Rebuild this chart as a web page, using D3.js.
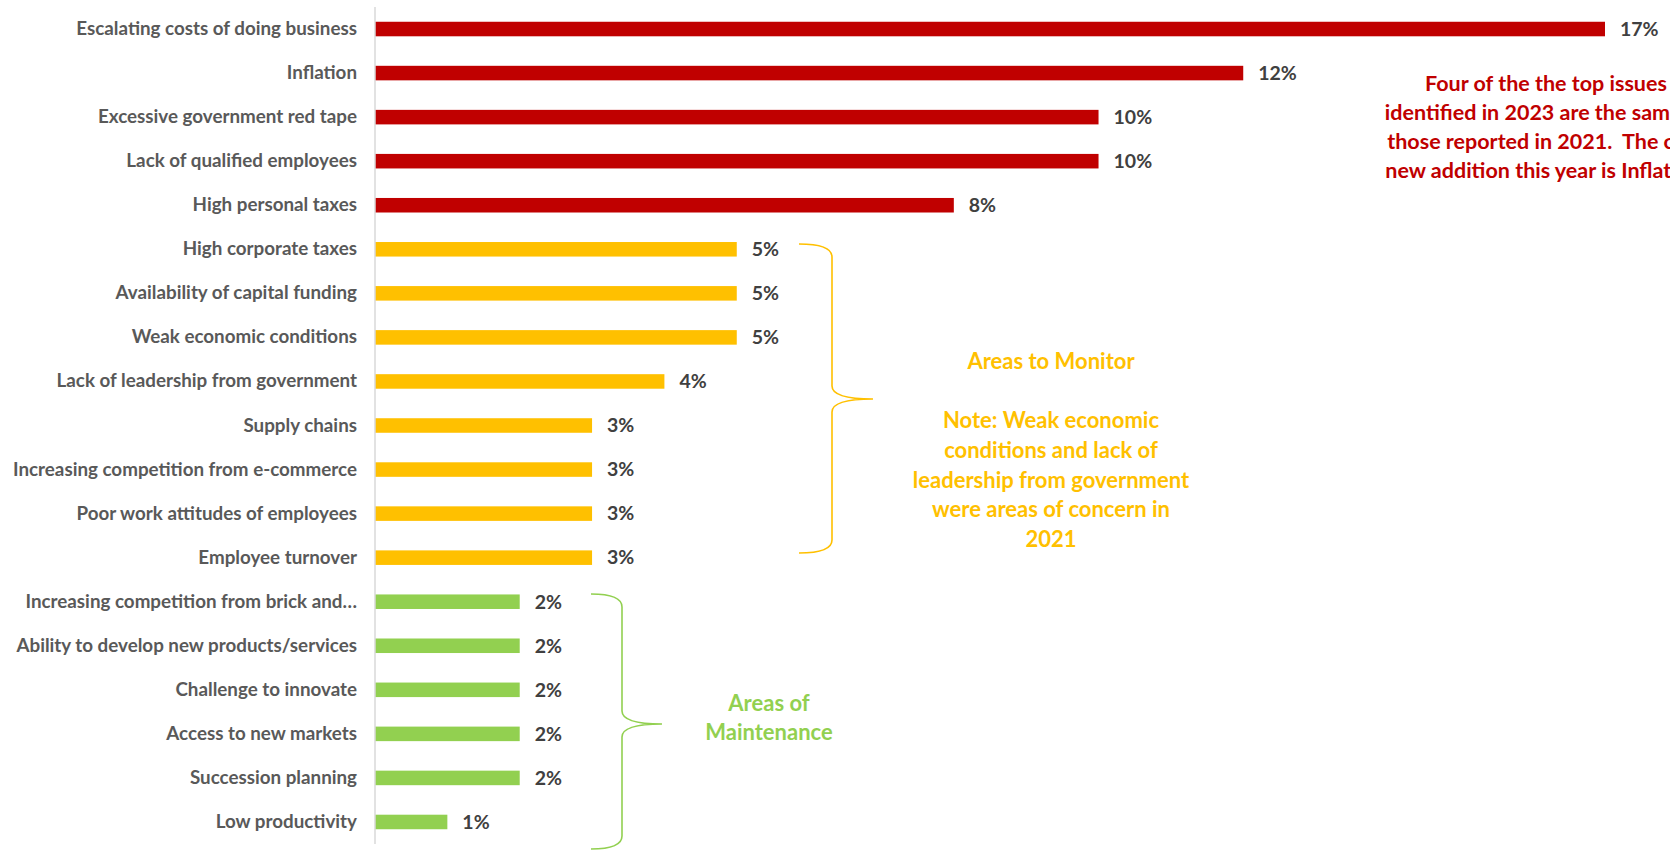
<!DOCTYPE html>
<html>
<head>
<meta charset="utf-8">
<script src="https://cdn.jsdelivr.net/npm/d3@7"></script>
<style>
  html, body { margin: 0; padding: 0; background: #fff; overflow: hidden; }
  svg { display: block; font-family: Lato, "Open Sans", sans-serif; font-weight: 700; }
</style>
</head>
<body>
<svg id="chart" width="1670" height="851"></svg>
<script>
// Top business concerns, share of respondents (%)
const categories = [
  "Escalating costs of doing business",
  "Inflation",
  "Excessive government red tape",
  "Lack of qualified employees",
  "High personal taxes",
  "High corporate taxes",
  "Availability of capital funding",
  "Weak economic conditions",
  "Lack of leadership from government",
  "Supply chains",
  "Increasing competition from e-commerce",
  "Poor work attitudes of employees",
  "Employee turnover",
  "Increasing competition from brick and\u2026",
  "Ability to develop new products/services",
  "Challenge to innovate",
  "Access to new markets",
  "Succession planning",
  "Low productivity"
];
const values = [17, 12, 10, 10, 8, 5, 5, 5, 4, 3, 3, 3, 3, 2, 2, 2, 2, 2, 1];
// Tier of each concern: 0 = top issues, 1 = areas to monitor, 2 = areas of maintenance
const tiers = [0, 0, 0, 0, 0, 1, 1, 1, 1, 1, 1, 1, 1, 2, 2, 2, 2, 2, 2];
const tierColors = ["#C00000", "#FFC000", "#92D050"];

const redNote = [
  "Four of the the top issues",
  "identified in 2023 are the same as",
  "those reported in 2021.  The only",
  "new addition this year is Inflation."
];
const monitorNote = [
  "Areas to Monitor",
  "",
  "Note: Weak economic",
  "conditions and lack of",
  "leadership from government",
  "were areas of concern in",
  "2021"
];
const maintenanceNote = ["Areas of", "Maintenance"];

const svg = d3.select("#chart");

const x = d3.scaleLinear().domain([0, 17]).range([375, 1605]);
const y = d3.scaleBand()
  .domain(categories)
  .range([7, 844])
  .paddingInner(0.67)
  .paddingOuter(0.335);

// Bars
svg.append("g").selectAll("rect")
  .data(categories)
  .join("rect")
  .attr("x", x(0))
  .attr("y", d => y(d))
  .attr("width", (d, i) => x(values[i]) - x(0))
  .attr("height", y.bandwidth())
  .attr("fill", (d, i) => tierColors[tiers[i]]);

// Category axis (labels only, with a light baseline)
const yAxis = d3.axisLeft(y).tickSize(0).tickPadding(18);
const gAxis = svg.append("g")
  .attr("transform", `translate(${x(0)},0)`)
  .call(yAxis);
gAxis.select(".domain").remove();
gAxis.selectAll("text")
  .attr("fill", "#595959")
  .style("font-family", "Lato, sans-serif")
  .style("font-weight", "700")
  .style("font-size", "18.8px");

svg.append("line")
  .attr("x1", x(0)).attr("x2", x(0))
  .attr("y1", 7).attr("y2", 844)
  .attr("stroke", "#D9D9D9")
  .attr("stroke-width", 1.5);

// Value labels
svg.append("g").selectAll("text")
  .data(categories)
  .join("text")
  .attr("x", (d, i) => x(values[i]) + 15)
  .attr("y", d => y(d) + y.bandwidth() / 2)
  .attr("dy", "0.35em")
  .attr("fill", "#404040")
  .style("font-size", "19.5px")
  .text((d, i) => values[i] + "%");

// Braces grouping the tiers
function brace(xTip, xSpine, xMid, yTop, yMid, yBot, color) {
  const r = 13;
  const p = d3.path();
  p.moveTo(xTip, yTop);
  p.quadraticCurveTo(xSpine, yTop, xSpine, yTop + r);
  p.lineTo(xSpine, yMid - r);
  p.quadraticCurveTo(xSpine, yMid, xMid, yMid);
  p.moveTo(xMid, yMid);
  p.quadraticCurveTo(xSpine, yMid, xSpine, yMid + r);
  p.lineTo(xSpine, yBot - r);
  p.quadraticCurveTo(xSpine, yBot, xTip, yBot);
  svg.append("path")
    .attr("d", p.toString())
    .attr("fill", "none")
    .attr("stroke", color)
    .attr("stroke-width", 1.6);
}
brace(799, 832, 873, 244, 399, 553, tierColors[1]);
brace(591, 622, 662, 594, 724, 849, tierColors[2]);

// Notes
function note(lines, cx, cy0, lh, size, color) {
  svg.append("g").selectAll("text")
    .data(lines)
    .join("text")
    .attr("x", cx)
    .attr("y", (d, i) => cy0 + i * lh)
    .attr("dy", "0.35em")
    .attr("text-anchor", "middle")
    .attr("fill", color)
    .style("font-size", size + "px")
    .style("white-space", "pre")
    .text(d => d);
}
note(redNote, 1546, 83, 29, 21.5, tierColors[0]);
note(monitorNote, 1051, 361, 29.7, 22, tierColors[1]);
note(maintenanceNote, 769, 703, 29, 22, tierColors[2]);
</script>
</body>
</html>
